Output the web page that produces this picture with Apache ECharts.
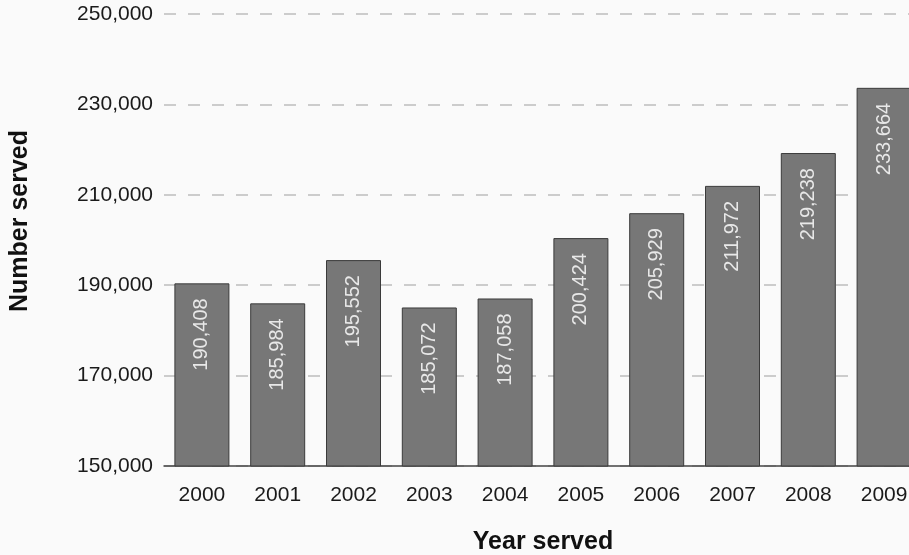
<!DOCTYPE html>
<html>
<head>
<meta charset="utf-8">
<title>Number served by year</title>
<script src="https://cdn.jsdelivr.net/npm/echarts@6/dist/echarts.min.js"></script>
<style>
  html, body { margin: 0; padding: 0; background: #fafafa; }
  #chart { width: 909px; height: 555px; }
</style>
</head>
<body>
<div id="chart"></div>
<script>
// Years on the category axis
const years = ['2000', '2001', '2002', '2003', '2004', '2005', '2006', '2007', '2008', '2009'];
// Number served in each year
const served = [190408, 185984, 195552, 185072, 187058, 200424, 205929, 211972, 219238, 233664];
// Value axis range and step
const yMin = 150000;
const yMax = 250000;
const yStep = 20000;

const FONT = '"Liberation Sans", Arial, sans-serif';

function withCommas(v) {
  return String(v).replace(/\B(?=(\d{3})+(?!\d))/g, ',');
}

const chart = echarts.init(document.getElementById('chart'), null, { renderer: 'canvas' });

chart.setOption({
  backgroundColor: '#fafafa',
  animation: false,
  // the last bar runs past the right edge of the canvas, so the grid is not kept inside it
  grid: { left: 164, top: 14, right: -13, bottom: 89, containLabel: false, outerBoundsMode: 'none' },
  xAxis: {
    type: 'category',
    data: years,
    name: 'Year served',
    nameLocation: 'middle',
    nameGap: 64,
    nameTextStyle: { fontFamily: FONT, fontSize: 25, fontWeight: 'bold', color: '#111' },
    axisLine: { show: true, lineStyle: { color: '#444', width: 1.5 } },
    axisTick: { show: false },
    axisLabel: { fontFamily: FONT, fontSize: 21, color: '#1a1a1a', margin: 19 }
  },
  yAxis: {
    type: 'value',
    min: yMin,
    max: yMax,
    interval: yStep,
    axisLine: { show: false },
    axisTick: { show: false },
    axisLabel: {
      fontFamily: FONT, fontSize: 21, color: '#1a1a1a', margin: 11,
      formatter: withCommas
    },
    splitLine: { show: true, lineStyle: { color: '#bdbdbd', width: 1.5, type: [12, 12] } }
  },
  graphic: [{
    type: 'text',
    x: 20,
    y: 221,
    rotation: Math.PI / 2,
    style: {
      text: 'Number served',
      fontFamily: FONT,
      fontSize: 25,
      fontWeight: 'bold',
      fill: '#111',
      textAlign: 'center',
      textVerticalAlign: 'middle'
    }
  }],
  series: [{
    type: 'bar',
    data: served,
    barWidth: 55,
    itemStyle: { color: '#777777', borderColor: '#3a3a3a', borderWidth: 1 },
    label: {
      show: true,
      position: 'insideTop',
      rotate: 90,
      align: 'right',
      verticalAlign: 'middle',
      distance: 15,
      fontFamily: FONT,
      fontSize: 20,
      color: '#e8e8e8',
      formatter: p => withCommas(p.value)
    }
  }]
});
</script>
</body>
</html>
